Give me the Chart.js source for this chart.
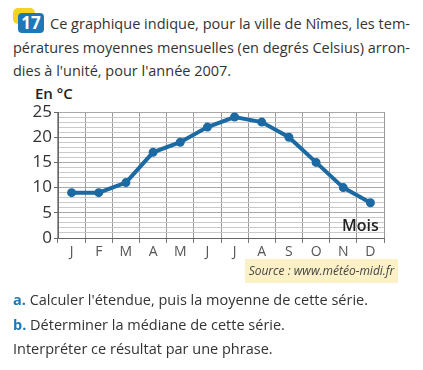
<!DOCTYPE html>
<html>
<head>
<meta charset="utf-8">
<script src="https://cdn.jsdelivr.net/npm/chart.js@4"></script>
<style>
  html, body { margin: 0; padding: 0; background: #fff; }
  body { width: 423px; height: 370px; position: relative; overflow: hidden;
         font-family: 'Open Sans', 'Noto Sans', sans-serif; color: #333; }
  .line { position: absolute; font-size: 14.5px; white-space: nowrap; }
  .just { text-align: justify; text-align-last: justify; }
  .badge-y { position: absolute; left: 13px; top: 8px; width: 22px; height: 16px;
             background: #f7d21e; border-radius: 5px; }
  .badge { position: absolute; left: 18px; top: 13px; width: 26px; height: 20px;
           background: #1d78b8; border-radius: 4px; color: #fff; font-weight: bold;
           font-size: 17px; line-height: 20px; text-align: center; }
  #wrap { position: absolute; left: 0; top: 90px; width: 423px; height: 170px; }
  .unit { position: absolute; left: 35px; top: 83px; font-size: 15px; font-weight: 600; color: #222; }
  .mois { position: absolute; left: 342px; top: 214px; font-size: 16px; font-weight: 600; color: #222; }
  .source { position: absolute; left: 245px; top: 259px; width: 153px; height: 24px;
            background: #fcf1c6; font-size: 12px; font-style: italic; color: #444;
            line-height: 24px; text-align: center; }
  .q { color: #1d78b8; font-weight: bold; }
</style>
</head>
<body>
<div class="badge-y"></div>
<div class="badge">17</div>
<div class="line just" style="left:50px; top:14px; width:360px;">Ce graphique indique, pour la ville de Nîmes, les tem-</div>
<div class="line just" style="left:13px; top:38px; width:397px;">pératures moyennes mensuelles (en degrés Celsius) arron-</div>
<div class="line" style="left:13px; top:61px;">dies à l'unité, pour l'année 2007.</div>

<div class="unit">En °C</div>
<div id="wrap"><canvas id="chart" width="423" height="170"></canvas></div>
<div class="mois">Mois</div>
<div class="source">Source : www.météo-midi.fr</div>

<div class="line" style="left:13px; top:290px;"><span class="q">a.</span> Calculer l'étendue, puis la moyenne de cette série.</div>
<div class="line" style="left:13px; top:315px;"><span class="q">b.</span> Déterminer la médiane de cette série.</div>
<div class="line" style="left:13px; top:339px;">Interpréter ce résultat par une phrase.</div>

<script>
const months = ['J', 'F', 'M', 'A', 'M', 'J', 'J', 'A', 'S', 'O', 'N', 'D'];
const temperatures = [9, 9, 11, 17, 19, 22, 24, 23, 20, 15, 10, 7];
const yMin = 0;
const yMax = 25;

const lineBlue = '#1b6aa3';

new Chart(document.getElementById('chart'), {
  type: 'line',
  data: {
    labels: months,
    datasets: [{
      data: temperatures,
      borderColor: lineBlue,
      backgroundColor: lineBlue,
      borderWidth: 4,
      pointRadius: 2.5,
      pointHoverRadius: 2.5,
      tension: 0,
    }],
  },
  options: {
    responsive: false,
    animation: false,
    layout: { padding: { left: 0, top: 22, right: 39, bottom: 0 } },
    plugins: { legend: { display: false }, tooltip: { enabled: false } },
    scales: {
      x: {
        offset: true,
        afterFit: (s) => { s.height = 22; },
        grid: { offset: true, color: '#9a9a9a', tickColor: '#777', tickLength: 5, lineWidth: 1 },
        border: { color: '#666', width: 1 },
        ticks: { color: '#555', padding: 1, font: { family: 'Open Sans', size: 14 } },
      },
      y: {
        min: yMin,
        max: yMax,
        afterFit: (s) => { s.width = 58; },
        grid: {
          color: (ctx) => (ctx.tick && ctx.tick.value % 5 === 0 ? '#a8a8a8' : '#c9c9c9'),
          tickColor: (ctx) => (ctx.tick && ctx.tick.value % 5 === 0 ? '#666' : 'rgba(0,0,0,0)'),
          tickLength: 4,
          lineWidth: 1,
        },
        border: { color: '#666', width: 1 },
        ticks: {
          stepSize: 1,
          autoSkip: false,
          color: '#333',
          padding: 2,
          font: { family: 'Open Sans', size: 17 },
          callback: (v) => (v % 5 === 0 ? String(v) : ''),
        },
      },
    },
  },
});
</script>
</body>
</html>
